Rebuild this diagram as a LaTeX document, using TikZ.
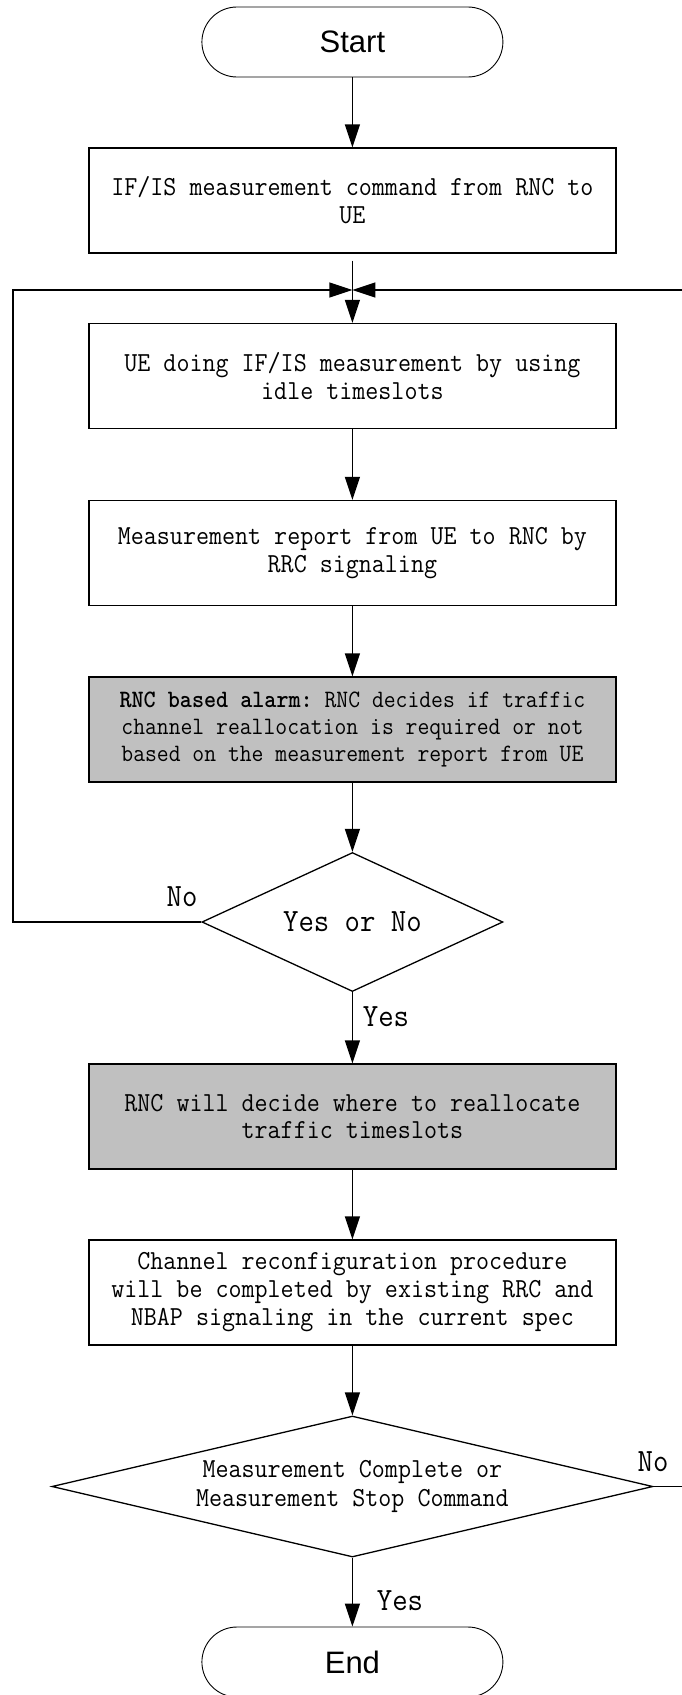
\documentclass[tikz,border=0pt]{standalone}
\usepackage{graphicx}
\usepackage{fontspec}
\newfontfamily\sanslab{Liberation Sans}
\newfontfamily\cmono[FakeStretch=0.92]{Latin Modern Mono}
\newcommand{\boldmono}[1]{\scalebox{0.92}[1]{\ttfamily\bfseries #1}}
\usetikzlibrary{shapes.geometric,arrows.meta}
\definecolor{boxgray}{HTML}{C0C0C0}
\begin{document}
\begin{tikzpicture}[x=1pt,y=-1pt,
  proc/.style={draw,line width=1.3pt,minimum width=527pt,minimum height=105pt,align=center,
    font=\fontsize{27.5}{28}\selectfont\cmono,inner sep=0pt},
  grayproc/.style={proc,fill=boxgray},
  term/.style={draw,line width=0.9pt,rounded corners=35pt,minimum width=301pt,minimum height=70pt,
    font=\fontsize{31}{34}\selectfont\sanslab,inner sep=0pt},
  decide/.style={draw,diamond,line width=1.3pt,inner sep=0pt},
  dtext/.style={align=center,inner sep=0pt},
  arr/.style={line width=1.3pt,-{Triangle[length=23pt,width=15pt]}},
  line/.style={line width=1.3pt},
  lab/.style={font=\fontsize{32.5}{34}\selectfont\cmono,inner sep=0pt}]
\useasboundingbox (0,0) rectangle (681,1695);

\node[term] (start) at (352.4,42) {Start};
\node[proc] (b1) at (352.4,200.5) {IF/IS measurement command from RNC to\\UE};
\coordinate (m) at (352.4,290);
\node[proc] (b2) at (352.4,376) {UE doing IF/IS measurement by using\\idle timeslots};
\node[proc] (b3) at (352.4,553) {Measurement report from UE to RNC by\\RRC signaling};
\node[grayproc,font=\fontsize{25}{27}\selectfont\cmono] (b4) at (352.4,729.5)
  {\boldmono{RNC based alarm:} RNC decides if traffic\\channel reallocation is required or not\\based on the measurement report from UE};
\node[decide,minimum width=301pt,minimum height=139pt] (d1) at (352.4,922) {};
\node[dtext,font=\fontsize{32.5}{34}\selectfont\cmono] (d1t) at (d1.center) {Yes or No};
\node[grayproc] (b5) at (352.4,1116.5) {RNC will decide where to reallocate\\traffic timeslots};
\node[proc] (b6) at (352.4,1292.5) {Channel reconfiguration procedure\\will be completed by existing RRC and\\NBAP signaling in the current spec};
\node[decide,minimum width=601pt,minimum height=141pt] (d2) at (352.4,1486.5) {};
\node[dtext,font=\fontsize{27.5}{29}\selectfont\cmono] (d2t) at (d2.center) {Measurement Complete or\\Measurement Stop Command};
\node[term] (end) at (352.4,1662) {End};

\coordinate (lft) at (13,922);
\coordinate (rgt) at (720,1486.5);

\draw[arr] (start) -- (b1);
\draw[line] ([yshift=-7pt]b1.south) -- (m);
\draw[arr] (m) -- (b2);
\draw[arr] (b2) -- (b3);
\draw[arr] (b3) -- (b4);
\draw[arr] (b4) -- (d1);
\draw[arr] (d1) -- (b5);
\draw[arr] (b5) -- (b6);
\draw[arr] (b6) -- (d2);
\draw[arr] (d2) -- (end);
\draw[arr] (d1.west) -- (lft) |- (m);
\draw[arr] (d2.east) -- (rgt) |- (m);

\node[lab] (no1) at (182,897) {No};
\node[lab] (yes1) at (386,1017) {Yes};
\node[lab] (no2) at (653,1461.5) {No};
\node[lab] (yes2) at (400,1601) {Yes};
\end{tikzpicture}
\end{document}
